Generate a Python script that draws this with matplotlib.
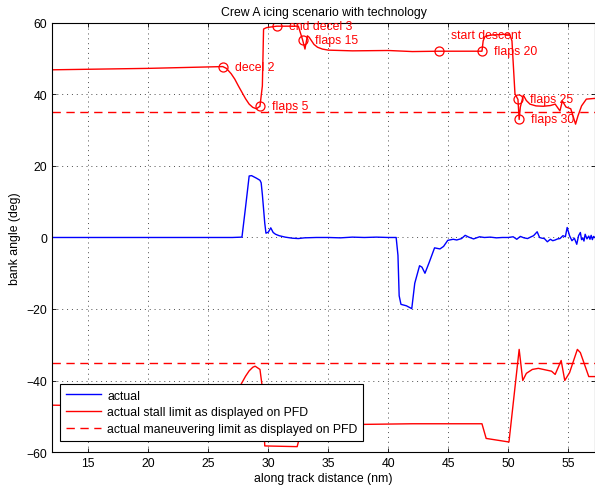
import numpy as np
import matplotlib.pyplot as plt

plt.rcParams['font.family'] = ['Liberation Sans', 'DejaVu Sans']
plt.rcParams['font.size'] = 8.8

# bank angle flown
actual_x = [12.0, 20.0, 27.0, 27.8, 28.1, 28.4, 28.6, 29.0, 29.3, 29.4, 29.5, 29.7, 29.8,
            30.0, 30.2, 30.4, 30.6, 30.9, 31.4, 32.0, 32.5, 33.0, 34.0, 35.0, 36.0, 37.0,
            38.0, 39.0, 40.0, 40.65, 40.8, 40.9, 41.05, 41.5, 41.95, 42.2, 42.6, 42.8,
            43.05, 43.4, 43.85, 44.3, 44.6, 44.95, 45.4, 45.7, 46.1, 46.4, 46.7, 47.1,
            47.6, 48.0, 48.5, 49.0, 49.5, 50.0, 50.4, 50.7, 51.0, 51.3, 51.6, 51.9, 52.1,
            52.4, 52.6, 52.8, 53.0, 53.25, 53.5, 53.7, 53.9, 54.1, 54.3, 54.55, 54.75,
            54.9, 55.1, 55.3, 55.5, 55.7, 55.85, 56.0, 56.1, 56.2, 56.3, 56.4, 56.55,
            56.7, 56.8, 56.9, 57.0, 57.1, 57.2]
actual_y = [0.0, 0.0, 0.0, 0.1, 8.5, 17.2, 17.3, 16.6, 16.0, 15.3, 12.0, 4.0, 1.2,
            1.5, 2.7, 1.4, 0.9, 0.5, 0.1, -0.2, -0.3, -0.1, 0.0, 0.0, -0.1, 0.1,
            0.0, 0.1, 0.0, 0.0, -5.0, -16.3, -18.7, -19.1, -19.9, -12.8, -7.9, -8.3,
            -10.0, -7.0, -2.9, -3.2, -2.5, -0.8, -0.5, -0.7, -0.3, 0.6, 0.1, -0.4,
            0.2, 0.0, 0.1, -0.1, 0.0, 0.0, 0.2, -0.5, 0.3, -0.1, -0.3, 0.2, 0.5,
            1.6, 0.0, -0.2, -0.3, -1.2, -0.5, -0.9, -0.7, -0.4, -0.3, 0.5, 0.2,
            2.8, 0.5, -0.9, -0.2, -1.9, 0.5, 1.4, -0.6, -0.2, -1.0, 0.9, -0.4,
            0.4, -0.5, 0.6, -0.6, 0.3, 0.0]

# stall limit shown on the PFD, positive side
stall_up_x = [12.0, 20.0, 26.2, 26.5, 26.9, 27.2, 27.5, 27.8, 28.1, 28.4, 28.7, 29.0,
              29.3, 29.5, 29.6, 29.85, 30.7, 32.5, 32.85, 33.05, 33.25, 33.4, 33.6, 33.8,
              34.1, 34.5, 35.0, 37.0, 40.0, 42.0, 44.2, 47.8, 47.9, 48.05, 48.5, 50.1,
              50.3, 50.55, 50.8, 50.9, 51.0, 51.25, 51.5, 51.8, 52.3, 52.9, 53.5, 53.9,
              54.3, 54.5, 54.8, 55.2, 55.6, 55.8, 56.1, 56.5, 57.2]
stall_up_y = [46.9, 47.3, 47.8, 47.3, 45.8, 44.3, 42.4, 40.6, 38.8, 37.3, 36.4, 36.0,
              36.7, 42.4, 58.3, 58.7, 59.1, 59.1, 55.3, 52.7, 56.4, 56.0, 55.0, 54.0,
              53.2, 52.7, 52.4, 52.2, 52.3, 52.0, 52.1, 52.1, 55.0, 56.2, 56.6, 56.9,
              55.0, 40.2, 38.6, 33.0, 36.5, 39.8, 38.3, 37.3, 36.8, 36.7, 36.9, 37.3,
              35.4, 38.2, 36.5, 36.0, 31.7, 34.0, 36.8, 38.7, 38.9]

# stall limit shown on the PFD, negative side
stall_dn_x = [12.0, 20.0, 26.2, 26.5, 26.9, 27.2, 27.5, 27.8, 28.1, 28.4, 28.7, 28.9,
              29.3, 29.5, 29.7, 32.4, 32.6, 33.0, 33.3, 33.5, 34.0, 35.0, 42.0, 47.8,
              48.15, 50.05, 50.9, 51.2, 51.5, 52.0, 52.5, 53.6, 53.9, 54.4, 54.7, 55.1,
              55.75, 56.0, 56.7, 57.2]
stall_dn_y = [-46.9, -47.3, -47.8, -47.3, -45.8, -44.3, -42.4, -40.6, -38.8, -37.3,
              -36.3, -36.0, -36.9, -42.0, -58.3, -58.5, -55.9, -55.5, -56.2, -54.0,
              -53.0, -52.4, -52.1, -52.1, -56.2, -57.2, -31.3, -40.0, -38.0, -36.9,
              -36.6, -37.4, -38.3, -34.4, -40.0, -37.8, -31.3, -32.2, -38.9, -38.9]

maneuver_limit = 35.0

# configuration events along the approach
event_names = ['decel 2', 'flaps 5', 'end decel 3', 'flaps 15', 'start descent',
               'flaps 20', 'flaps 25', 'flaps 30']
event_x = [26.2, 29.3, 30.7, 32.85, 44.2, 47.8, 50.8, 50.9]
event_y = [47.8, 36.7, 59.1, 55.3, 52.1, 52.1, 38.6, 33.0]

fig = plt.figure(figsize=(5.95, 4.89), dpi=100)
ax = fig.add_axes([0.0874, 0.0736, 0.9126, 0.8774])

red = '#ff0000'
ax.plot(actual_x, actual_y, color='#0000ff', lw=1.0, label='actual')
ax.plot(stall_up_x, stall_up_y, color=red, lw=1.0,
        label='actual stall limit as displayed on PFD')
ax.plot(stall_dn_x, stall_dn_y, color=red, lw=1.0)
ax.axhline(maneuver_limit, color=red, lw=1.0, ls=(0, (6, 4)),
           label='actual maneuvering limit as displayed on PFD')
ax.axhline(-maneuver_limit, color=red, lw=1.0, ls=(0, (6, 4)))

ax.plot(event_x, event_y, 'o', mfc='none', mec=red, ms=6.5, mew=0.9)
for name, x, y in zip(event_names, event_x, event_y):
    dy = 4.5 if name == 'start descent' else 0.0
    ax.text(x + 1.0, y + dy, name, color=red, va='center', ha='left')

ax.set_xlim(11.97, 57.22)
ax.set_ylim(-60, 60)
ax.set_xticks(np.arange(15, 56, 5))
ax.set_yticks(np.arange(-60, 61, 20))
ax.tick_params(direction='in', top=True, right=True, length=3, width=0.6)
ax.grid(True, color='0.3', ls=(0, (1, 4)), lw=0.7)
for s in ax.spines.values():
    s.set_linewidth(0.8)

ax.set_title('Crew A icing scenario with technology', fontsize=8.8, pad=6)
ax.set_xlabel('along track distance (nm)', labelpad=2)
ax.set_ylabel('bank angle (deg)', labelpad=4)

leg = ax.legend(loc='lower left', bbox_to_anchor=(0.015, 0.026), borderaxespad=0,
                fancybox=False, framealpha=1, edgecolor='black',
                handlelength=2.9, handletextpad=0.5, borderpad=0.45, labelspacing=0.4)
leg.get_frame().set_linewidth(0.8)

fig.savefig('out.png', dpi=100)
